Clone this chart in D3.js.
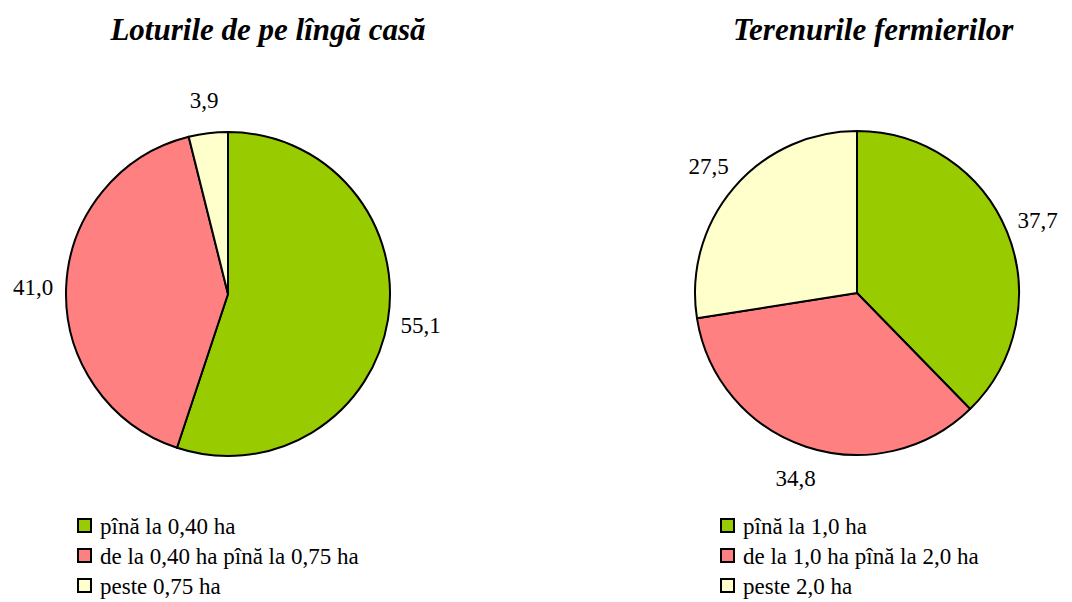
<!DOCTYPE html>
<html><head><meta charset="utf-8"><script src="https://cdn.jsdelivr.net/npm/d3@7"></script></head>
<body style="margin:0">
<svg id="fig" width="1072" height="602"></svg>
<script>
// data
const leftTitle = 'Loturile de pe lîngă casă';
const leftCategories = ['pînă la 0,40 ha', 'de la 0,40 ha pînă la 0,75 ha', 'peste 0,75 ha'];
const leftValues = [55.1, 41.0, 3.9];

const rightTitle = 'Terenurile fermierilor';
const rightCategories = ['pînă la 1,0 ha', 'de la 1,0 ha pînă la 2,0 ha', 'peste 2,0 ha'];
const rightValues = [37.7, 34.8, 27.5];

const colors = ['#99cc00', '#ff8080', '#ffffcc'];

const svg = d3.select('#fig');
const fmt = v => v.toFixed(1).replace('.', ',');

function drawPie(cfg){
  const color = d3.scaleOrdinal().domain(d3.range(cfg.values.length)).range(colors);
  const pie = d3.pie().sort(null).value(d=>d);
  const arc = d3.arc().innerRadius(0).outerRadius(cfg.r);
  const arcs = pie(cfg.values);

  // title
  svg.append('text')
    .attr('x', cfg.titleX).attr('y', 40)
    .attr('text-anchor', cfg.titleAnchor)
    .attr('font-family', 'Liberation Serif')
    .attr('font-size', 31).attr('font-weight', 'bold').attr('font-style', 'italic')
    .text(cfg.title);

  // slices
  svg.append('g').attr('transform', `translate(${cfg.cx},${cfg.cy})`)
    .selectAll('path').data(arcs).join('path')
    .attr('d', arc)
    .attr('fill', (d,i)=>color(i))
    .attr('stroke', '#000').attr('stroke-width', 2).attr('stroke-linejoin', 'round');

  // value labels just outside the rim
  const labelArc = d3.arc().innerRadius(cfg.r + 33).outerRadius(cfg.r + 33);
  arcs.forEach(d=>{
    const [lx, ly] = labelArc.centroid(d);
    svg.append('text')
      .attr('x', cfg.cx + lx).attr('y', cfg.cy + ly + 8)
      .attr('text-anchor', 'middle')
      .attr('font-family', 'Liberation Serif')
      .attr('font-size', 23)
      .text(fmt(d.data));
  });

  // legend
  cfg.categories.forEach((c,i)=>{
    const y0 = 518 + i*30;
    svg.append('rect')
      .attr('x', cfg.legX + 1).attr('y', y0 + 1).attr('width', 13).attr('height', 13)
      .attr('fill', color(i))
      .attr('stroke', '#000').attr('stroke-width', 2);
    svg.append('text')
      .attr('x', cfg.legX + 23).attr('y', y0 + 16)
      .attr('font-family', 'Liberation Serif')
      .attr('font-size', 23)
      .text(c);
  });
}

drawPie({title:leftTitle, categories:leftCategories, values:leftValues,
  cx:228, cy:294, r:162, titleX:268, titleAnchor:'middle', legX:77});
drawPie({title:rightTitle, categories:rightCategories, values:rightValues,
  cx:857, cy:293, r:162, titleX:733, titleAnchor:'start', legX:720});
</script>
</body>
</html>
